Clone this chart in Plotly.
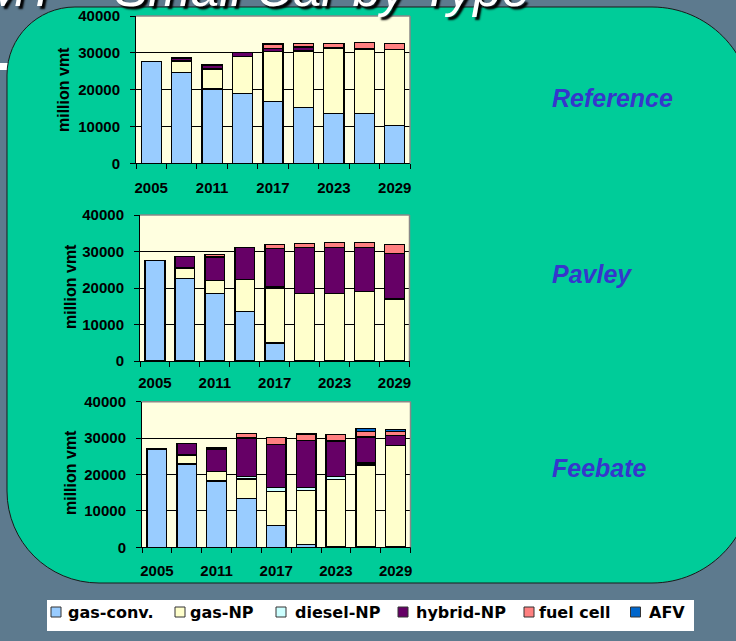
import plotly.graph_objects as go

W, H = 736, 641

years = ["2005", "2008", "2011", "2014", "2017", "2020", "2023", "2026", "2029"]
year_labels = ["2005", "", "2011", "", "2017", "", "2023", "", "2029"]

series_names = ["gas-conv.", "gas-NP", "diesel-NP", "hybrid-NP", "fuel cell", "AFV"]
series_colors = ["#99CCFF", "#FFFFCC", "#CCFFFF", "#660066", "#FF8080", "#0066CC"]

# Reference scenario (million vmt)
ref_gas_conv = [27700, 24600, 20200, 18900, 16800, 15200, 13500, 13500, 10200]
ref_gas_np = [0, 3200, 5400, 10100, 13500, 15300, 17700, 17500, 20700]
ref_diesel_np = [0, 0, 0, 0, 0, 0, 0, 0, 0]
ref_hybrid_np = [0, 800, 1100, 1000, 900, 1100, 100, 0, 0]
ref_fuel_cell = [0, 0, 0, 0, 1200, 900, 1300, 1800, 1600]
ref_afv = [0, 0, 0, 0, 0, 0, 0, 0, 0]

# Pavley scenario
pav_gas_conv = [27500, 22700, 18500, 13600, 4900, 0, 0, 0, 0]
pav_gas_np = [0, 2800, 3500, 8800, 14900, 18500, 18500, 19100, 16900]
pav_diesel_np = [0, 200, 0, 0, 500, 0, 0, 0, 300]
pav_hybrid_np = [0, 3000, 6500, 8700, 10500, 12600, 12600, 12000, 12300]
pav_fuel_cell = [0, 0, 600, 0, 1100, 1100, 1400, 1400, 2500]
pav_afv = [0, 0, 0, 0, 0, 0, 0, 0, 0]

# Feebate scenario
fee_gas_conv = [27000, 22900, 18200, 13400, 6000, 800, 300, 300, 300]
fee_gas_np = [0, 2300, 2600, 5400, 9300, 14900, 18400, 22300, 27700]
fee_diesel_np = [0, 300, 0, 700, 1100, 700, 700, 600, 0]
fee_hybrid_np = [0, 3000, 6200, 10500, 11900, 13000, 9800, 7100, 2700]
fee_fuel_cell = [0, 0, 300, 1300, 1800, 1700, 1800, 1500, 1200]
fee_afv = [0, 0, 0, 0, 0, 0, 0, 900, 400]

scenario_names = ["Reference", "Pavley", "Feebate"]
scenarios = [
    [ref_gas_conv, ref_gas_np, ref_diesel_np, ref_hybrid_np, ref_fuel_cell, ref_afv],
    [pav_gas_conv, pav_gas_np, pav_diesel_np, pav_hybrid_np, pav_fuel_cell, pav_afv],
    [fee_gas_conv, fee_gas_np, fee_diesel_np, fee_hybrid_np, fee_fuel_cell, fee_afv],
]

title_text = "VMT – Small Car by Type"

# ---------------- layout geometry (pixels) ----------------
plot_boxes = [  # left, top, right, bottom
    (136, 16, 410, 163.3),
    (140, 215, 409.5, 361),
    (142, 401.7, 410.5, 547.3),
]
x_standoff = [11, 8, 10]
ylabel_pos = [(63, 90), (70, 287), (70, 473)]
scen_label_pos = [(550, 98), (550, 274), (550, 468)]

BG = "#5D7A8E"
GREEN = "#00CC99"
AXFONT = dict(family="Liberation Sans, Arial, sans-serif", size=15, color="black", weight="bold")


def px(x):
    return x / W


def py(y):
    return 1 - y / H


def pt(x, y):
    return f"{px(x):.5f},{py(y):.5f}"


fig = go.Figure()

for i, data in enumerate(scenarios):
    xa = "x" if i == 0 else f"x{i+1}"
    ya = "y" if i == 0 else f"y{i+1}"
    for name, color, vals in zip(series_names, series_colors, data):
        fig.add_trace(go.Bar(
            x=years, y=vals, name=name, marker_color=color,
            marker_line=dict(color="black", width=1.3),
            xaxis=xa, yaxis=ya, showlegend=False,
        ))

layout = dict(
    width=W, height=H, margin=dict(l=0, r=0, t=0, b=0, pad=0, autoexpand=False),
    paper_bgcolor=BG, plot_bgcolor="rgba(0,0,0,0)", autosize=False,
    barmode="stack", bargap=0.34, showlegend=False,
)

shapes = []
annotations = []

# title underline piece (behind panel)
shapes.append(dict(type="rect", xref="paper", yref="paper", x0=px(0), x1=px(22), y0=py(70), y1=py(63),
                   fillcolor="white", line=dict(width=0), layer="below"))

# rounded green panel
L, T, R, B = 7, 7, 752, 583
r_tl, r_bl, r_br, r_tr = 68, 92, 100, 100
k = 0.5523
path = (
    f"M {pt(L, T + r_tl)} L {pt(L, B - r_bl)} "
    f"C {pt(L, B - r_bl + k * r_bl)} {pt(L + r_bl - k * r_bl, B)} {pt(L + r_bl, B)} "
    f"L {pt(R - r_br, B)} "
    f"C {pt(R - r_br + k * r_br, B)} {pt(R, B - r_br + k * r_br)} {pt(R, B - r_br)} "
    f"L {pt(R, T + r_tr)} "
    f"C {pt(R, T + r_tr - k * r_tr)} {pt(R - r_tr + k * r_tr, T)} {pt(R - r_tr, T)} "
    f"L {pt(L + r_tl, T)} "
    f"C {pt(L + r_tl - k * r_tl, T)} {pt(L, T + r_tl - k * r_tl)} {pt(L, T + r_tl)} Z"
)
shapes.append(dict(type="path", xref="paper", yref="paper", path=path, fillcolor=GREEN,
                   line=dict(color="#1a1a1a", width=1), layer="below"))

for i, (l, t, r, b) in enumerate(plot_boxes):
    n = "" if i == 0 else str(i + 1)
    layout[f"xaxis{n}"] = dict(
        domain=[px(l), px(r)], anchor=f"y{n}", type="category",
        tickvals=years, ticktext=year_labels, tickson="boundaries", tickangle=0,
        ticks="outside", ticklen=5, tickcolor="black", tickwidth=1,
        showline=True, linecolor="black", linewidth=1, showgrid=False,
        tickfont=AXFONT, ticklabelstandoff=x_standoff[i], fixedrange=True, automargin=False,
    )
    layout[f"yaxis{n}"] = dict(
        domain=[py(b), py(t)], anchor=f"x{n}", range=[0, 40000], dtick=10000,
        tickformat="d", ticks="outside", ticklen=5, tickcolor="black",
        showline=True, linecolor="black", linewidth=1,
        showgrid=True, gridcolor="black", gridwidth=1, zeroline=False,
        tickfont=AXFONT, ticklabelstandoff=7, fixedrange=True, automargin=False,
    )
    xr = f"x{n} domain"
    yr = f"y{n} domain"
    shapes.append(dict(type="rect", xref=xr, yref=yr, x0=0, x1=1, y0=0, y1=1,
                       fillcolor="#FFFFE0", line=dict(width=0), layer="below"))
    shapes.append(dict(type="line", xref=xr, yref=yr, x0=0, x1=1, y0=1, y1=1,
                       line=dict(color="#888888", width=1.5), layer="above"))
    shapes.append(dict(type="line", xref=xr, yref=yr, x0=1, x1=1, y0=0, y1=1,
                       line=dict(color="#888888", width=1.5), layer="above"))
    # y-axis title
    lx, ly = ylabel_pos[i]
    annotations.append(dict(text="million vmt", x=px(lx), y=py(ly), xref="paper", yref="paper",
                            textangle=-90, showarrow=False, xanchor="center", yanchor="middle",
                            font=dict(family="Liberation Sans, Arial, sans-serif", size=16,
                                      color="black", weight="bold")))
    sx, sy = scen_label_pos[i]
    annotations.append(dict(text=scenario_names[i], x=px(sx), y=py(sy), xref="paper", yref="paper",
                            showarrow=False, xanchor="left", yanchor="middle",
                            font=dict(family="Liberation Sans, Arial, sans-serif", size=25,
                                      color="#3636CC", weight="bold", style="italic")))

# title (partially off the top of the page)
annotations.append(dict(text=title_text, x=px(532), y=py(19), xref="paper", yref="paper",
                        showarrow=False, xanchor="right", yanchor="bottom",
                        font=dict(family="Liberation Sans, Arial, sans-serif", size=51,
                                  color="white", style="italic", shadow="3px 3px 2px #000000")))

# legend box
shapes.append(dict(type="rect", xref="paper", yref="paper", x0=px(47), x1=px(694), y0=py(631), y1=py(600),
                   fillcolor="white", line=dict(width=0), layer="above"))
legend_sq_x = [51, 175, 276, 398, 524, 630.5]
legend_tx_x = [65.5, 188, 293, 414, 536.5, 647]
for name, color, sqx, tx in zip(series_names, series_colors, legend_sq_x, legend_tx_x):
    shapes.append(dict(type="rect", xref="paper", yref="paper", x0=px(sqx), x1=px(sqx + 10),
                       y0=py(617), y1=py(607), fillcolor=color,
                       line=dict(color="#333333", width=1), layer="above"))
    annotations.append(dict(text=name, x=px(tx), y=py(612), xref="paper", yref="paper",
                            showarrow=False, xanchor="left", yanchor="middle",
                            font=dict(family="DejaVu Sans, sans-serif", size=16, color="black",
                                      weight="bold")))

layout["shapes"] = shapes
layout["annotations"] = annotations
fig.update_layout(**layout)

fig.write_html("out.html")
